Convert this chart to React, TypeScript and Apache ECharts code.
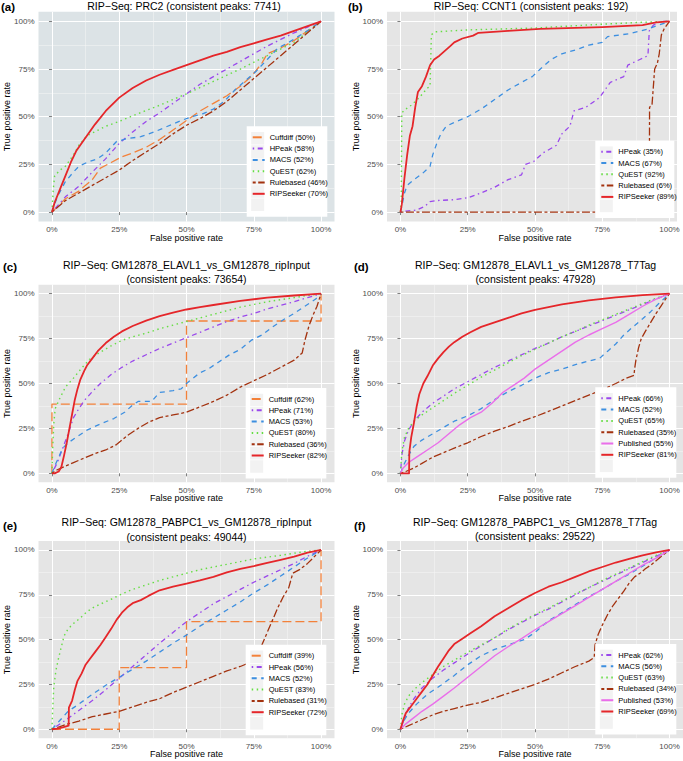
import React, { useEffect, useRef } from "react";
import * as echarts from "echarts";

// ---------- axis ticks ----------
const TICKS = [0, 25, 50, 75, 100];
const MINOR = [12.5, 37.5, 62.5, 87.5];

// ---------- panel (a) RIP-Seq: PRC2 ----------
const aCuffdiff = [[0,0],[5,7],[10,11],[15,17],[18,23],[22,26],[26,29],[30,31],[35,34],[40,38],[45,43],[50,48],[55,53],[60,57],[65,61],[70,66],[74,71],[78,78],[80,83],[85,86],[90,90],[95,95],[100,100]];
const aHPeak = [[0,0],[5,8],[10,13.5],[15,21],[20,28],[25,36],[30,42],[35,47.5],[40,52],[45,57],[50,62],[55,67],[60,71],[65,75],[70,79],[75,83],[80,87],[85,90.5],[90,94],[95,97],[100,100]];
const aMACS = [[0,0],[2,8],[5,16],[8,21],[10,24],[13,26],[17,28],[20,31],[24,37],[28,38.5],[33,39.5],[38,42],[43,45],[48,48],[52,50],[56,51.5],[60,54],[64,58],[68,64],[72,69],[76,74],[80,80],[84,86],[88,89],[92,92.5],[96,96],[100,100]];
const aQuEST = [[0,0],[0.5,12],[1,19],[3,22],[5,24],[8,30],[10,35],[13,40],[20,45],[25,47.5],[30,50.5],[40,56],[50,62],[60,68.5],[70,75],[80,82],[90,89],[100,100]];
const aRulebased = [[0,0],[5,6],[10,10],[15,14],[20,18],[25,22],[30,27],[35,31.5],[40,36],[45,41],[50,45.5],[55,49],[60,53],[65,58],[70,64],[75,70],[80,76],[85,82],[90,88],[95,94],[100,100]];
const aRIPSeeker = [[0,0],[1,5],[3,12],[5,19],[7,26],[9,32],[12,38],[16,46],[20,53],[25,60],[30,65],[35,69],[40,72],[45,74.5],[50,77],[55,79.5],[60,82],[65,84],[70,86.5],[75,88.5],[80,90.5],[85,92.5],[90,95],[95,97.5],[100,100]];

// ---------- panel (b) RIP-Seq: CCNT1 ----------
const bHPeak = [[0,0],[2,0.5],[6,1],[9,3],[11,5.5],[13,6],[20,6.5],[25,7.5],[30,10],[35,13],[40,17],[45,19.5],[46.5,25],[49.5,26.5],[53,31],[58,35],[60,41],[63,45],[64.5,53],[69,55],[74,60],[78,68],[83,71],[84.5,77],[89,80],[92,82],[92.5,95],[94,98],[97,100],[100,100]];
const bMACS = [[0,0],[0.5,3],[1.5,10],[2.5,14],[5,17],[8,20],[11,24],[12,30],[13.5,36],[15,41],[17,45],[20,47],[25,50],[30,54],[35,59],[40,64],[45,68],[49,71],[52,75],[56,80],[60,83],[65,85],[70,87.5],[75,89],[77,92],[85,93.5],[92,96],[96,98],[100,100]];
const bQuEST = [[0,0],[0.3,5],[0.5,52],[2,54],[4,56],[7,60],[10,65],[11,66],[11.5,93],[13,94.5],[25,95.5],[50,96.5],[75,98.5],[90,99.5],[100,100]];
const bRulebased = [[0,0],[92.5,0],[92.6,55],[93.5,56],[94.5,75],[95.5,78],[96.2,83],[97,93],[98,96],[99,98],[100,100]];
const bRIPSeeker = [[0,0],[0.5,4],[1.5,18],[2.5,30],[3.5,40],[4.5,45],[5.5,55],[6.5,63],[8,66],[9.5,71],[11,77],[12.5,80],[14.5,82],[16.5,84.5],[18.5,87],[20,89],[23,91],[27,92.5],[29,94],[40,95],[52,96],[75,97],[90,98],[95,99.5],[100,100]];

// ---------- panel (c) ELAVL1 vs ripInput ----------
const cCuffdiff = [[0,0],[0,38.5],[50,38.5],[50,84.8],[100,84.8],[100,100]];
const cHPeak = [[0,0],[2,6],[4,14],[6,22],[8,31],[10,36],[12,40.5],[15,45.5],[18,50],[22,55],[26,59],[30,62.5],[35,66],[40,69.5],[45,72.5],[50,75.5],[55,78.5],[60,81.5],[65,84.5],[70,87],[75,89],[80,91.5],[85,93.5],[90,95.5],[95,97.8],[100,100]];
const cMACS = [[0,0],[1,4],[2.5,9],[4,14],[6,17],[9,20],[13,24],[18,27.5],[23,30.5],[27,34],[30,38],[32,40],[37,40],[40,45],[45,46],[48,47],[50,50],[55,56],[58,58],[62,62],[66,66],[70,69],[74,74],[78,77],[82,81.5],[86,85.5],[90,89],[94,93],[98,97],[100,100]];
const cQuEST = [[0,0],[0.3,15],[0.7,28],[1.2,36],[3,42],[5,48],[8,53],[11,58.5],[14,63.5],[18,67.5],[22,71],[26,74],[30,76],[35,78],[40,80.5],[45,82.5],[50,84.5],[55,86.5],[60,88.5],[65,90.5],[70,92.5],[75,94],[80,95.5],[85,96.7],[90,97.8],[95,99],[100,100]];
const cRulebased = [[0,0],[2,2],[5,4],[8,6],[12,8.5],[16,11],[20,13],[24,16],[28,21],[32,25],[36,28.5],[40,31],[45,32.5],[50,34],[55,37],[60,40],[65,43.5],[70,48],[75,51.5],[80,55],[85,59],[90,63],[93,67],[94,74],[95.5,82],[97,88],[98.5,93],[100,100]];
const cRIPSeeker = [[0,0],[1,0],[2.5,1],[3.5,3.5],[4.5,10],[5.5,17],[6.5,25],[7.5,33],[8.5,41],[9.5,47],[10.5,52],[12,57],[13,60],[15,64],[17,68],[20,72.5],[23,76],[26,79],[30,82],[35,85],[40,87.5],[45,89.5],[50,91.2],[55,92.5],[60,93.7],[70,96],[80,97.8],[90,99],[100,100]];

// ---------- panel (d) ELAVL1 vs T7Tag ----------
const dHPeak = [[0,0],[0.5,10],[1.5,18],[3,24],[5,29],[8,34],[12,39],[16,43],[20,47],[25,51],[30,55],[35,59],[40,62.5],[45,66],[50,69.5],[55,72.5],[60,76],[65,79],[70,82],[75,85],[80,88],[85,91],[90,94],[95,97],[100,100]];
const dMACS = [[0,0],[1,4],[3,10],[5,15],[8,18.5],[12,22],[16,25.5],[20,29],[25,32],[30,36],[35,41],[40,45.5],[45,49],[50,53],[55,56],[60,58],[65,60.5],[70,62.5],[74,64],[77,68],[80,72],[83,77],[86,81],[90,86],[93,90],[96,94.5],[100,100]];
const dQuEST = [[0,0],[0.5,12],[1.5,20],[3,25],[5,29],[8,32.5],[12,36.5],[16,40.5],[20,44.5],[25,49],[30,53.5],[35,57.5],[40,61.5],[45,65.5],[50,69],[55,72.5],[60,76],[65,79],[70,82.5],[75,85.5],[80,88.5],[85,91.5],[90,94.5],[95,97.5],[100,100]];
const dRulebased = [[0,0],[2,1],[5,3],[8,5.5],[12,9],[16,11.5],[20,14],[25,17],[30,20.5],[35,23.5],[40,26],[45,29],[50,31.5],[55,34.5],[60,37.5],[65,40.5],[70,43.5],[75,46.5],[80,50],[84,53],[86.8,54.5],[87,58],[87.5,63],[88.5,70],[89.5,75],[91,79],[93,84],[95,89],[97,93.5],[98.5,97],[100,100]];
const dPublished = [[0,0],[1,3],[3,6],[6,9],[10,13],[14,17],[18,22],[22,27],[26,31],[30,34],[34,39],[38,45],[42,49],[46,53],[50,58],[55,63],[60,68],[65,73],[70,77],[75,80.5],[80,84],[85,88.5],[90,93],[95,97],[100,100]];
const dRIPSeeker = [[0,0],[3.2,0],[3.3,12],[4,20],[5,28],[6,37],[7,44],[8.5,50],[10,54],[12,60],[14,64],[16,67.5],[18,70.5],[20,73],[23,76],[26,78.5],[30,81.5],[35,84],[40,86.5],[45,89],[50,91],[55,92.5],[60,94],[70,96.3],[80,98],[90,99.2],[100,100]];

// ---------- panel (e) PABPC1 vs ripInput ----------
const eCuffdiff = [[0,0],[25,0],[25,34.4],[50,34.4],[50,60],[100,60],[100,100]];
const eHPeak = [[0,0],[5,5],[10,10.5],[15,16],[20,22],[25,28.5],[30,35],[35,41.5],[40,48],[45,54],[50,60],[55,65],[60,70],[65,74],[70,78],[75,82],[80,85.5],[85,89],[90,92.5],[95,96.5],[100,100]];
const eMACS = [[0,0],[3,5],[6,10],[10,14],[15,19.5],[20,24.5],[25,29],[30,33.5],[35,38],[40,43],[45,48],[50,52.5],[55,57.5],[60,62],[65,66.5],[70,71],[75,76],[80,80.5],[85,85.5],[90,90.5],[95,95.5],[100,100]];
const eQuEST = [[0,0],[0.3,12],[0.7,24],[1.5,33],[2.5,40],[3.5,46],[4.5,52],[6,56],[8,59],[10.5,62],[13,65.5],[15.5,68],[19,70.5],[22,72.5],[26,75.5],[30,78],[35,80.5],[40,83],[45,85],[50,87],[55,89],[60,90.5],[65,92],[70,93.5],[75,95],[80,96],[85,97],[90,98.2],[95,99.3],[100,100]];
const eRulebased = [[0,0],[3,1.5],[6,3],[10,4.5],[15,7],[20,8.5],[25,10],[30,12.5],[35,15],[40,17],[45,20.5],[50,23.5],[55,26.5],[60,29.5],[65,32.5],[70,35],[74,37.5],[76,41],[78,47],[80,54],[82,61],[84,68],[86,74],[88,79],[89.5,87],[92,89],[95,92.5],[97,95.5],[100,100]];
const eRIPSeeker = [[0,0],[2,0.3],[4,1],[6.2,2],[6.3,12],[7.5,16],[8.5,22],[9.5,27],[11,31],[12.5,36],[14,39],[16,43],[18,47],[20,51.5],[22,56],[24,61],[26,65],[28,68],[30,70.3],[33,72],[36,74.5],[40,77.5],[45,79.5],[50,81.2],[55,83],[60,85],[65,87.5],[70,89.5],[75,91],[80,92.8],[85,94.5],[90,96.3],[95,98.5],[100,100]];

// ---------- panel (f) PABPC1 vs T7Tag ----------
const fHPeak = [[0,0],[1,4],[3,12],[5,17],[8,23],[12,28.5],[16,33],[20,37],[25,42],[30,46.5],[35,51],[40,55.5],[45,59.5],[50,63.5],[55,67],[60,71],[65,75],[70,79],[75,82.5],[80,86],[85,89.5],[90,93],[95,96.5],[100,100]];
const fMACS = [[0,0],[1,4],[3,9],[6,14],[10,19.5],[15,24.5],[20,30],[25,36],[30,41],[35,44.5],[40,47],[46,50],[50,54],[53,58],[55.6,61],[60,65],[65,69.5],[70,74],[75,78],[80,82.5],[85,86.5],[90,91],[95,95.5],[100,100]];
const fQuEST = [[0,0],[0.5,8],[1.5,14],[3,18.5],[5,22],[8,26],[12,30.5],[16,35],[20,38.5],[25,43],[30,47],[35,51],[40,56],[45,60],[50,64],[55,67.5],[60,71.5],[65,75.5],[70,79],[75,83],[80,86.5],[85,90],[90,93.5],[95,97],[100,100]];
const fRulebased = [[0,0],[3,2],[6,4],[9,6],[12,8],[16,10],[20,11.5],[25,13.5],[30,15],[35,17.5],[40,20],[45,22.5],[50,25],[55,28],[60,31.5],[65,35],[70,38],[72,40],[72.3,47],[73.5,53],[75,58],[77,64],[79,69],[81,73],[83,77],[85,81.5],[87,85],[89,87],[91,89.5],[93,91.5],[95,94],[97,96.5],[100,100]];
const fPublished = [[0,0],[2,3],[5,6.5],[8,10],[12,14],[16,18.5],[20,23],[25,29],[30,35],[35,41],[40,46],[45,50.5],[50,55.5],[55,60],[60,64.5],[65,69],[70,73.5],[75,78],[80,82.5],[85,87],[90,91.5],[95,95.5],[100,100]];
const fRIPSeeker = [[0,0],[1,5],[2,9],[4,13],[6,17],[8,21],[10,25],[12,30],[14,35],[16,39.5],[18,44],[20,47.5],[23,50.5],[26,53.5],[30,57.5],[35,63],[40,67.5],[45,72],[50,76],[55,79.5],[60,82],[65,85],[70,88],[75,90.5],[80,93],[85,95],[90,97],[95,98.7],[100,100]];

// ---------- titles / AUC labels ----------
const TITLES = [
  ["RIP\u2212Seq: PRC2 (consistent peaks: 7741)"],
  ["RIP\u2212Seq: CCNT1 (consistent peaks: 192)"],
  ["RIP\u2212Seq: GM12878_ELAVL1_vs_GM12878_ripInput", "(consistent peaks: 73654)"],
  ["RIP\u2212Seq: GM12878_ELAVL1_vs_GM12878_T7Tag", "(consistent peaks: 47928)"],
  ["RIP\u2212Seq: GM12878_PABPC1_vs_GM12878_ripInput", "(consistent peaks: 49044)"],
  ["RIP\u2212Seq: GM12878_PABPC1_vs_GM12878_T7Tag", "(consistent peaks: 29522)"],
];
const LETTERS = ["(a)", "(b)", "(c)", "(d)", "(e)", "(f)"];

const PANEL_SERIES: [string, number, number[][]][][] = [
  [["Cuffdiff", 50, aCuffdiff], ["HPeak", 58, aHPeak], ["MACS", 52, aMACS], ["QuEST", 62, aQuEST], ["Rulebased", 46, aRulebased], ["RIPSeeker", 70, aRIPSeeker]],
  [["HPeak", 35, bHPeak], ["MACS", 67, bMACS], ["QuEST", 92, bQuEST], ["Rulebased", 6, bRulebased], ["RIPSeeker", 89, bRIPSeeker]],
  [["Cuffdiff", 62, cCuffdiff], ["HPeak", 71, cHPeak], ["MACS", 53, cMACS], ["QuEST", 80, cQuEST], ["Rulebased", 36, cRulebased], ["RIPSeeker", 82, cRIPSeeker]],
  [["HPeak", 66, dHPeak], ["MACS", 52, dMACS], ["QuEST", 65, dQuEST], ["Rulebased", 35, dRulebased], ["Published", 55, dPublished], ["RIPSeeker", 81, dRIPSeeker]],
  [["Cuffdiff", 39, eCuffdiff], ["HPeak", 56, eHPeak], ["MACS", 52, eMACS], ["QuEST", 83, eQuEST], ["Rulebased", 31, eRulebased], ["RIPSeeker", 72, eRIPSeeker]],
  [["HPeak", 62, fHPeak], ["MACS", 56, fMACS], ["QuEST", 63, fQuEST], ["Rulebased", 34, fRulebased], ["Published", 53, fPublished], ["RIPSeeker", 69, fRIPSeeker]],
];

// ---------- styles ----------
const FONT = "'Liberation Sans', Arial, Helvetica, sans-serif";
const STYLE: Record<string, { color: string; type: any; width: number }> = {
  Cuffdiff: { color: "#f3813a", type: [9, 4], width: 1.3 },
  HPeak: { color: "#9a48ec", type: [1.5, 3.5, 5, 3.5], width: 1.3 },
  MACS: { color: "#3d8fe0", type: [5, 4.5], width: 1.3 },
  QuEST: { color: "#66dd44", type: [1.5, 3.5], width: 1.4 },
  Rulebased: { color: "#a3320f", type: [3, 2.5, 8, 2.5], width: 1.3 },
  Published: { color: "#ea6eea", type: "solid", width: 1.4 },
  RIPSeeker: { color: "#e5262a", type: "solid", width: 1.8 },
};

// ---------- layout (pixels) ----------
const LEG_PAD_T = 7;
const LEG_ITEM_H = 10;
const LEG_GAP = 3.3;
const LAYOUT = [
  { grid: { left: 38.5, top: 11.8, width: 296, height: 209.8 }, xmax: 105, bg: "#dce3e6", legend: [246.7, 126.3, 80.6], letter: [1, 6.5], titleX: 184, titleY: [5.8], xName: [186.5, 238.3], yName: [7, 116.7] },
  { grid: { left: 387, top: 11.8, width: 290, height: 209.8 }, xmax: 102.8, bg: "#e5e5e5", legend: [595.3, 140.7, 79], letter: [348, 6.5], titleX: 531, titleY: [5.8], xName: [535, 238.3], yName: [356, 116.7] },
  { grid: { left: 38.5, top: 284.7, width: 296, height: 197.6 }, xmax: 105, bg: "#e5e5e5", legend: [245.7, 388, 80.6], letter: [3, 266.5], titleX: 186.5, titleY: [265, 279.3], xName: [186.5, 498.3], yName: [7, 383.5] },
  { grid: { left: 387, top: 284.7, width: 296, height: 197.6 }, xmax: 105, bg: "#e5e5e5", legend: [595.3, 387.3, 81], letter: [354, 266.5], titleX: 535.5, titleY: [265, 279.3], xName: [535, 498.3], yName: [356, 383.5] },
  { grid: { left: 38.5, top: 541, width: 296, height: 197.2 }, xmax: 105, bg: "#e5e5e5", legend: [245.7, 644.7, 80.6], letter: [3, 525.5], titleX: 186.5, titleY: [522.3, 536.7], xName: [186.5, 754.3], yName: [7, 639.6] },
  { grid: { left: 387, top: 541, width: 296, height: 197.2 }, xmax: 105, bg: "#e5e5e5", legend: [595.3, 644, 81], letter: [354, 525.5], titleX: 535, titleY: [522.3, 536.3], xName: [535, 754.3], yName: [356, 639.6] },
];

function buildOption() {
  const grid: any[] = [];
  const xAxis: any[] = [];
  const yAxis: any[] = [];
  const series: any[] = [];
  const legend: any[] = [];
  const graphic: any[] = [];

  LAYOUT.forEach((L, i) => {
    grid.push({ ...L.grid, show: true, backgroundColor: L.bg, borderWidth: 0 });
    const major = (min: number, max: number, pos: string) => ({
      gridIndex: i, type: "value", min, max, position: pos,
      axisLine: { show: false },
      axisTick: { show: true, length: 3, customValues: TICKS, lineStyle: { color: "#7f7f7f", width: 1 } },
      axisLabel: { customValues: TICKS, formatter: (v: number) => v + "%", fontSize: 8, color: "#4d4d4d", margin: 4, fontFamily: FONT },
      splitLine: { show: true, lineStyle: { color: "#ffffff", width: 1 } },
    });
    const minor = (min: number, max: number, pos: string) => ({
      gridIndex: i, type: "value", min, max, position: pos,
      axisLine: { show: false },
      axisTick: { show: false, customValues: MINOR },
      axisLabel: { show: false, customValues: MINOR },
      splitLine: { show: true, lineStyle: { color: "#f6f6f6", width: 0.5 } },
    });
    xAxis.push(major(-5, L.xmax, "bottom"));
    xAxis.push(minor(-5, L.xmax, "top"));
    yAxis.push(major(-5, 105, "left"));
    yAxis.push(minor(-5, 105, "right"));

    const names: string[] = [];
    PANEL_SERIES[i].forEach(([method, pct, data], k) => {
      const st = STYLE[method];
      const name = `${method} (${pct}%)`;
      names.push(name);
      series.push({
        type: "line", name, data,
        xAxisIndex: 2 * i, yAxisIndex: 2 * i,
        symbol: "none", showSymbol: false, silent: true,
        z: 2 + k * 0.01,
        lineStyle: { color: st.color, width: st.width, type: st.type, cap: "butt", join: "round" },
        itemStyle: { color: st.color },
      });
    });

    const [lx, ly, lw] = L.legend;
    const n = names.length;
    const lh = 2 * LEG_PAD_T + n * LEG_ITEM_H + (n - 1) * LEG_GAP;
    // legend box and grey key backgrounds (ggplot style)
    graphic.push({ type: "rect", z: 5, silent: true, shape: { x: lx, y: ly, width: lw, height: lh }, style: { fill: "#ffffff" } });
    for (let k = 0; k < n; k++) {
      const cy = ly + LEG_PAD_T + LEG_ITEM_H / 2 + k * (LEG_ITEM_H + LEG_GAP);
      graphic.push({ type: "rect", z: 6, silent: true, shape: { x: lx + 4.5, y: cy - 6.3, width: 13, height: 12.6 }, style: { fill: "#f2f2f2" } });
    }

    legend.push({
      left: lx, top: ly, orient: "vertical", z: 10,
      itemWidth: 12, itemHeight: LEG_ITEM_H, itemGap: LEG_GAP, padding: [LEG_PAD_T, 5, LEG_PAD_T, 5],
      backgroundColor: "transparent", selectedMode: false,
      itemStyle: { opacity: 0, borderWidth: 0 },
      textStyle: { fontSize: 7.5, color: "#000", fontFamily: FONT },
      data: names,
    });

    graphic.push({ type: "text", x: L.letter[0], y: L.letter[1], style: { text: LETTERS[i], fontSize: 11.5, fontWeight: "bold", fontFamily: FONT, fill: "#000", textAlign: "left", textVerticalAlign: "middle" } });
    TITLES[i].forEach((t, j) => {
      graphic.push({ type: "text", x: L.titleX, y: L.titleY[j], style: { text: t, fontSize: 10.5, fontFamily: FONT, fill: "#000", textAlign: "center", textVerticalAlign: "middle" } });
    });
    graphic.push({ type: "text", x: L.xName[0], y: L.xName[1], style: { text: "False positive rate", fontSize: 9, fontFamily: FONT, fill: "#000", textAlign: "center", textVerticalAlign: "middle" } });
    graphic.push({ type: "text", x: L.yName[0], y: L.yName[1], rotation: Math.PI / 2, style: { text: "True positive rate", fontSize: 9, fontFamily: FONT, fill: "#000", textAlign: "center", textVerticalAlign: "middle" } });
  });

  return {
    animation: false,
    backgroundColor: "#ffffff",
    textStyle: { fontFamily: FONT },
    grid, xAxis, yAxis, series, legend, graphic,
  };
}

export default function App() {
  const ref = useRef<HTMLDivElement>(null);
  useEffect(() => {
    if (!ref.current) return;
    const chart = echarts.init(ref.current, undefined, { renderer: "svg" });
    chart.setOption(buildOption() as any);
    return () => chart.dispose();
  }, []);
  return (
    <div
      ref={ref}
      style={{ position: "absolute", left: 0, top: 0, width: 683, height: 761, background: "#fff" }}
    />
  );
}
